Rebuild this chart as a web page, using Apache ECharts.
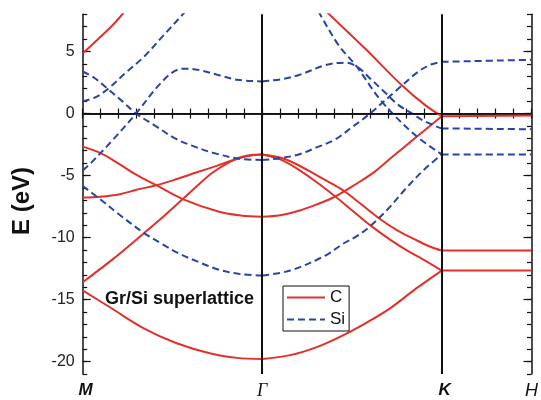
<!DOCTYPE html>
<html>
<head>
<meta charset="utf-8">
<script src="https://cdn.jsdelivr.net/npm/echarts@6/dist/echarts.min.js"></script>
<style>
  html, body { margin: 0; padding: 0; background: #fff; }
  #chart { width: 541px; height: 400px; }
</style>
</head>
<body>
<div id="chart"></div>
<script>
// high symmetry points along the path (M - Γ - K - H)
const kPoints = [0, 1, 2, 2.5];
const kLabels = ['M', 'Γ', 'K', 'H'];
const kStyles = ['bi', 'g', 'bi', 'i'];
const yLabels = [-20, -15, -10, -5, 0, 5];

// C bands, [k, E]
const carbonMG = [
  [[0, 4.85], [0.085, 5.99], [0.177, 7.28], [0.24, 8.35], [0.32, 9.8]],
  [[0, -2.67], [0.1, -3.2], [0.207, -4.1], [0.3, -4.95], [0.41, -5.78], [0.557, -6.9], [0.76, -7.92], [0.88, -8.22], [1, -8.32]],
  [[0, -6.77], [0.1, -6.7], [0.207, -6.5], [0.3, -6.15], [0.41, -5.78], [0.52, -5.3], [0.632, -4.76], [0.75, -4.2], [0.853, -3.69], [0.93, -3.4], [1, -3.3]],
  [[0, -13.6], [0.17, -11.72], [0.336, -9.71], [0.45, -8.3], [0.557, -6.9], [0.64, -5.8], [0.724, -4.76], [0.8, -4.05], [0.871, -3.56], [0.94, -3.35], [1, -3.3]],
  [[0, -14.26], [0.16, -15.7], [0.343, -17.34], [0.52, -18.5], [0.713, -19.35], [0.86, -19.7], [1, -19.8]]
];
const carbonGK = [
  [[1.22, 10.1], [1.36, 8.18], [1.573, 5.24], [1.776, 2.3], [1.906, 0.7], [2, -0.22]],
  [[1, -8.32], [1.1, -8.2], [1.204, -7.84], [1.3, -7.35], [1.407, -6.69], [1.536, -5.56], [1.629, -4.66], [1.72, -3.55], [1.85, -2.0], [2, -0.22]],
  [[1, -3.3], [1.1, -3.55], [1.2, -4.15], [1.3, -4.95], [1.4, -5.75], [1.46, -6.29], [1.55, -7.3], [1.656, -8.5], [1.75, -9.4], [1.85, -10.15], [1.93, -10.7], [2, -11.05]],
  [[1, -3.3], [1.1, -3.7], [1.2, -4.5], [1.3, -5.5], [1.407, -6.69], [1.5, -7.8], [1.61, -9.1], [1.72, -10.25], [1.813, -11.1], [1.9, -11.8], [2, -12.66]],
  [[1, -19.8], [1.156, -19.48], [1.3, -18.85], [1.433, -18.0], [1.57, -16.95], [1.71, -15.73], [1.858, -14.1], [2, -12.66]]
];
const carbonKH = [
  [[2, -0.22], [2.5, -0.15]],
  [[2, -11.05], [2.5, -11.05]],
  [[2, -12.66], [2.5, -12.66]]
];

// Si bands
const siliconMG = [
  [[0, 3.39], [0.066, 2.86], [0.14, 1.98], [0.22, 1.0], [0.297, 0], [0.4, -0.95], [0.52, -2.05], [0.62, -2.65], [0.724, -3.16], [0.871, -3.64], [1, -3.75]],
  [[0, 1.0], [0.07, 1.3], [0.14, 1.98], [0.24, 3.3], [0.343, 4.6], [0.45, 6.3], [0.554, 7.94], [0.62, 9.0]],
  [[0, -4.6], [0.048, -3.96], [0.17, -2.09], [0.297, 0], [0.435, 2.46], [0.528, 3.53], [0.583, 3.62], [0.65, 3.5], [0.75, 3.13], [0.86, 2.72], [1, 2.59]],
  [[0, -5.84], [0.096, -6.9], [0.2, -8.1], [0.336, -9.58], [0.44, -10.5], [0.539, -11.3], [0.65, -12.0], [0.76, -12.6], [0.88, -12.95], [1, -13.06]]
];
const siliconGK = [
  [[1, -3.75], [1.1, -3.6], [1.204, -3.3], [1.3, -2.75], [1.407, -2.09], [1.5, -1.1], [1.592, -0.1], [1.739, 1.76], [1.869, 3.37], [1.94, 3.95], [2, 4.17]],
  [[1.25, 9.8], [1.315, 8.18], [1.426, 5.5], [1.527, 3.77], [1.666, 0.96], [1.85, -1.71], [2, -3.3]],
  [[1, 2.59], [1.1, 2.75], [1.204, 3.1], [1.352, 3.9], [1.463, 4.1], [1.53, 3.75], [1.601, 2.83], [1.68, 1.75], [1.758, 0.7], [1.84, -0.05], [1.906, -0.64], [2, -1.2]],
  [[1, -13.06], [1.156, -12.66], [1.352, -11.45], [1.45, -10.5], [1.525, -9.9], [1.6, -9.1], [1.7, -7.7], [1.8, -6.05], [1.9, -4.55], [2, -3.3]]
];
const siliconKH = [
  [[2, 4.17], [2.5, 4.33]],
  [[2, -1.2], [2.5, -1.27]],
  [[2, -3.3], [2.5, -3.3]]
];

const red = '#e3302a';
const blue = '#2a44a4';

const chart = echarts.init(document.getElementById('chart'), null, { renderer: 'canvas' });

let series = [];
carbonMG.concat(carbonGK, carbonKH).forEach(band => {
  series.push({
    name: 'C',
    type: 'line',
    data: band,
    smooth: 0.35,
    symbol: 'none',
    silent: true,
    lineStyle: { color: red, width: 2 },
    itemStyle: { color: red }
  });
});
siliconMG.concat(siliconGK, siliconKH).forEach(band => {
  series.push({
    name: 'Si',
    type: 'line',
    data: band,
    smooth: 0.35,
    symbol: 'none',
    silent: true,
    lineStyle: { color: blue, width: 2, type: [7, 4] },
    itemStyle: { color: blue }
  });
});

// vertical lines at Γ, K and the Fermi level
series[0].markLine = {
  silent: true,
  symbol: ['none', 'none'],
  label: { show: false },
  data: [
    { xAxis: 1, lineStyle: { color: '#111', width: 2, type: 'solid' } },
    { xAxis: 2, lineStyle: { color: '#111', width: 2, type: 'solid' } },
    { yAxis: 0, lineStyle: { color: '#111', width: 1.2, type: 'solid' } }
  ]
};

const axisLine = { show: true, lineStyle: { color: '#111', width: 1.5 } };
const minorTick = { show: true, inside: true, length: 4.5, lineStyle: { color: '#111', width: 1.2 } };
const majorTick = { show: true, inside: true, length: 8, customValues: yLabels, lineStyle: { color: '#111', width: 1.2 } };

const yBase = { type: 'value', min: -21, max: 8, interval: 1, splitLine: { show: false } };

const option = {
  animation: false,
  backgroundColor: '#fff',
  grid: { left: 82.7, top: 14.3, right: 6.7, bottom: 24.3 },
  legend: {
    data: ['C', 'Si'],
    orient: 'vertical',
    left: 283,
    top: 286,
    padding: [3, 4, 3, 3],
    itemWidth: 38,
    itemHeight: 16,
    itemGap: 5,
    borderColor: '#111',
    borderWidth: 1,
    backgroundColor: '#fff',
    itemStyle: { opacity: 0 },
    textStyle: { fontSize: 17, color: '#111', fontFamily: 'Liberation Sans' }
  },
  graphic: [{
    type: 'text',
    left: 105,
    top: 290,
    style: { text: 'Gr/Si superlattice', font: 'bold 18px "Liberation Sans"', fill: '#111' }
  }, {
    type: 'text',
    x: 22,
    y: 201,
    rotation: Math.PI / 2,
    style: { text: 'E (eV)', font: 'bold 24px "Liberation Sans"', fill: '#111', align: 'center', verticalAlign: 'middle' }
  }],
  xAxis: [{
    type: 'value', position: 'bottom', min: 0, max: 2.5, interval: 0.1,
    splitLine: { show: false },
    axisLine: axisLine,
    axisTick: { show: true, inside: true, length: 5, lineStyle: { color: '#111', width: 1.2 } },
    axisLabel: {
      margin: 8,
      showMinLabel: true,
      showMaxLabel: true,
      formatter: v => {
        const i = kPoints.findIndex(p => Math.abs(p - v) < 1e-6);
        return i < 0 ? '' : '{' + kStyles[i] + '|' + kLabels[i] + '}';
      },
      rich: {
        bi: { fontSize: 17, fontWeight: 'bold', fontStyle: 'italic', fontFamily: 'Liberation Sans', color: '#111', padding: [0, 0, 0, 6] },
        g: { fontSize: 18, fontStyle: 'italic', fontFamily: 'Liberation Serif', color: '#111' },
        i: { fontSize: 18, fontStyle: 'italic', fontFamily: 'Liberation Sans', color: '#111' }
      }
    }
  }, {
    type: 'value', position: 'top', min: 0, max: 2.5, interval: 0.1,
    splitLine: { show: false },
    axisLine: axisLine,
    axisTick: { show: true, inside: true, length: 5, lineStyle: { color: '#111', width: 1.2 } },
    axisLabel: { show: false }
  }],
  yAxis: [
    Object.assign({}, yBase, {
      position: 'left',
      axisLine: axisLine,
      axisTick: minorTick,
      axisLabel: {
        margin: 8,
        fontSize: 16,
        fontFamily: 'Liberation Sans',
        color: '#222',
        formatter: v => (yLabels.indexOf(v) >= 0 ? String(v) : '')
      }
    }),
    Object.assign({}, yBase, { position: 'left', axisLine: { show: false }, axisTick: majorTick, axisLabel: { show: false } }),
    Object.assign({}, yBase, { position: 'right', axisLine: axisLine, axisTick: minorTick, axisLabel: { show: false } }),
    Object.assign({}, yBase, { position: 'right', axisLine: { show: false }, axisTick: majorTick, axisLabel: { show: false } })
  ],
  series: series
};

chart.setOption(option);
</script>
</body>
</html>
